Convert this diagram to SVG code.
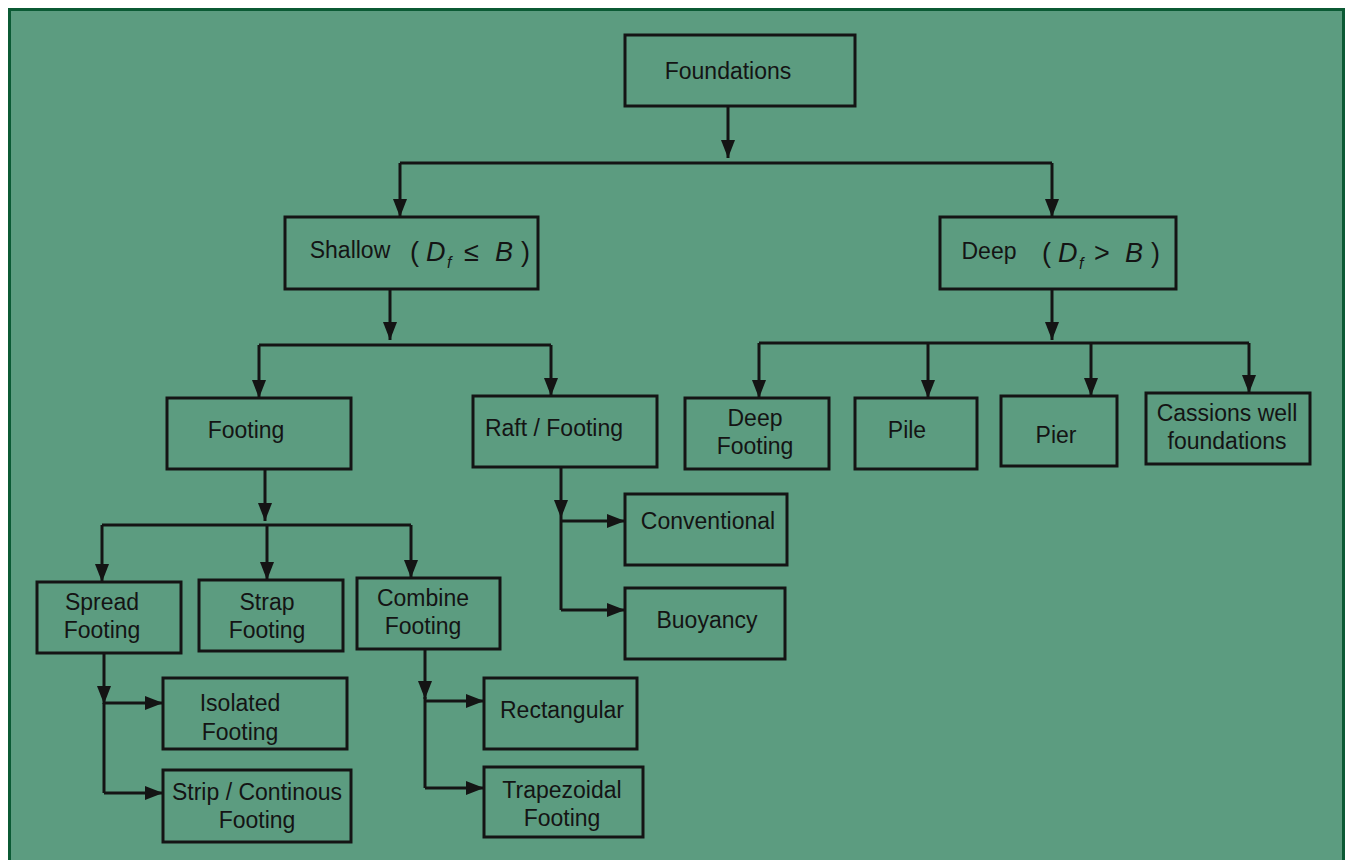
<svg xmlns="http://www.w3.org/2000/svg" width="1349" height="860" viewBox="0 0 1349 860">
<defs>
<style>
.bg{fill:#5c9c80;stroke:#0b5a34;stroke-width:3}
.box{fill:none;stroke:#141414;stroke-width:3}
.t{font-family:"Liberation Sans",Arial,sans-serif;font-size:23px;fill:#141414;text-anchor:middle}
.m{font-family:"Liberation Sans",Arial,sans-serif;font-size:27px;fill:#141414;font-style:italic;font-weight:normal}
.c{fill:none;stroke:#141414;stroke-width:3}
.a{fill:none;stroke:#141414;stroke-width:3;marker-end:url(#ah)}
</style>
<marker id="ah" viewBox="0 0 18 14" refX="18" refY="7" markerWidth="18" markerHeight="14" markerUnits="userSpaceOnUse" orient="auto">
<path d="M0,0 L18,7 L0,14 Z" fill="#141414"/>
</marker>
</defs>
<rect class="bg" x="9.5" y="9.5" width="1334" height="860"/>

<g id="connectors">
<path class="a" d="M728,106 V158"/>
<path class="c" d="M400,163 H1052"/>
<path class="a" d="M400,163 V217"/>
<path class="a" d="M1052,163 V217"/>

<path class="a" d="M390,289 V340"/>
<path class="c" d="M259,345 H551"/>
<path class="a" d="M259,345 V398"/>
<path class="a" d="M551,345 V396"/>

<path class="a" d="M1052,289 V340"/>
<path class="c" d="M759,343 H1249"/>
<path class="a" d="M759,343 V398"/>
<path class="a" d="M928,343 V398"/>
<path class="a" d="M1091,343 V396"/>
<path class="a" d="M1249,343 V393"/>

<path class="a" d="M265,469 V521"/>
<path class="c" d="M102,525 H411"/>
<path class="a" d="M102,525 V582"/>
<path class="a" d="M267,525 V580"/>
<path class="a" d="M411,525 V578"/>

<path class="a" d="M561,467 V518"/>
<path class="c" d="M561,518 V610"/>
<path class="a" d="M561,521 H625"/>
<path class="a" d="M561,610 H625"/>

<path class="a" d="M104,653 V704"/>
<path class="c" d="M104,703 V793"/>
<path class="a" d="M104,703 H163"/>
<path class="a" d="M104,793 H163"/>

<path class="a" d="M425,649 V699"/>
<path class="c" d="M425,697 V788"/>
<path class="a" d="M425,701 H484"/>
<path class="a" d="M425,788 H484"/>
</g>

<g id="foundations"><rect class="box" x="625" y="35" width="230" height="71"/><text class="t" x="728" y="79">Foundations</text></g>

<g id="shallow"><rect class="box" x="285" y="217" width="253" height="72"/>
<text class="t" x="350" y="258">Shallow</text>
<text class="m" x="410" y="261" style="font-style:normal">(</text>
<text class="m" x="426" y="261">D</text>
<text class="m" x="447" y="268" style="font-size:16px">f</text>
<text class="m" x="464" y="261" style="font-style:normal">≤</text>
<text class="m" x="495" y="261">B</text>
<text class="m" x="521" y="261" style="font-style:normal">)</text>
</g>

<g id="deep"><rect class="box" x="940" y="217" width="236" height="72"/>
<text class="t" x="989" y="259">Deep</text>
<text class="m" x="1042" y="262" style="font-style:normal">(</text>
<text class="m" x="1058" y="262">D</text>
<text class="m" x="1079" y="269" style="font-size:16px">f</text>
<text class="m" x="1094" y="262" style="font-style:normal">&gt;</text>
<text class="m" x="1125" y="262">B</text>
<text class="m" x="1151" y="262" style="font-style:normal">)</text>
</g>

<g id="footing"><rect class="box" x="167" y="398" width="184" height="71"/><text class="t" x="246" y="438">Footing</text></g>
<g id="raft"><rect class="box" x="473" y="396" width="184" height="71"/><text class="t" x="554" y="436">Raft / Footing</text></g>

<g id="deep-footing"><rect class="box" x="685" y="398" width="144" height="71"/><text class="t" x="755" y="426">Deep</text><text class="t" x="755" y="454">Footing</text></g>
<g id="pile"><rect class="box" x="855" y="398" width="122" height="71"/><text class="t" x="907" y="438">Pile</text></g>
<g id="pier"><rect class="box" x="1001" y="396" width="116" height="70"/><text class="t" x="1056" y="443">Pier</text></g>
<g id="cassions"><rect class="box" x="1146" y="393" width="164" height="71"/><text class="t" x="1227" y="421">Cassions well</text><text class="t" x="1227" y="449">foundations</text></g>

<g id="conventional"><rect class="box" x="625" y="494" width="162" height="71"/><text class="t" x="708" y="529">Conventional</text></g>
<g id="buoyancy"><rect class="box" x="625" y="588" width="160" height="71"/><text class="t" x="707" y="628">Buoyancy</text></g>

<g id="spread"><rect class="box" x="37" y="582" width="144" height="71"/><text class="t" x="102" y="610">Spread</text><text class="t" x="102" y="638">Footing</text></g>
<g id="strap"><rect class="box" x="199" y="580" width="144" height="71"/><text class="t" x="267" y="610">Strap</text><text class="t" x="267" y="638">Footing</text></g>
<g id="combine"><rect class="box" x="357" y="578" width="143" height="71"/><text class="t" x="423" y="606">Combine</text><text class="t" x="423" y="634">Footing</text></g>

<g id="isolated"><rect class="box" x="163" y="678" width="184" height="71"/><text class="t" x="240" y="711">Isolated</text><text class="t" x="240" y="740">Footing</text></g>
<g id="strip"><rect class="box" x="163" y="770" width="188" height="72"/><text class="t" x="257" y="800">Strip / Continous</text><text class="t" x="257" y="828">Footing</text></g>

<g id="rectangular"><rect class="box" x="484" y="678" width="153" height="71"/><text class="t" x="562" y="718">Rectangular</text></g>
<g id="trapezoidal"><rect class="box" x="484" y="767" width="159" height="70"/><text class="t" x="562" y="798">Trapezoidal</text><text class="t" x="562" y="826">Footing</text></g>
</svg>
